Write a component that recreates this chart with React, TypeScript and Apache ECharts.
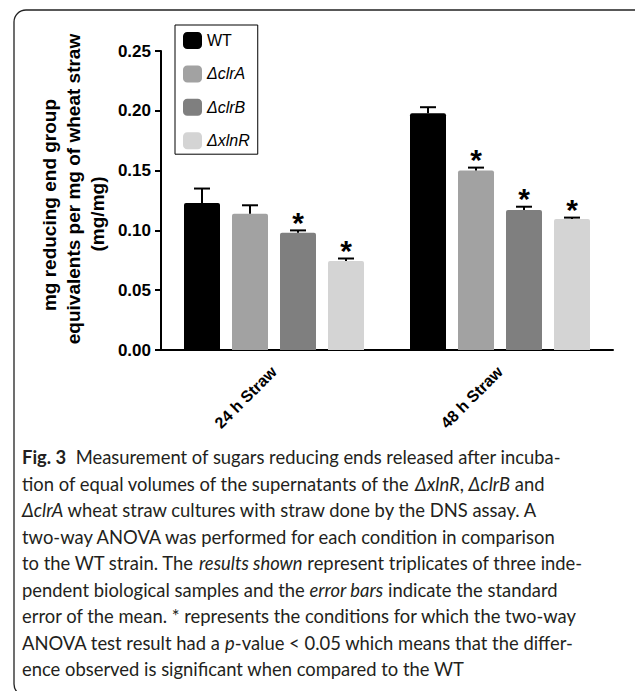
import React, { useEffect, useRef } from 'react';
import * as echarts from 'echarts';

const categories = ['24 h Straw', '48 h Straw'];
const strainNames = ['WT', 'ΔclrA', 'ΔclrB', 'ΔxlnR'];
const strainColors = ['#000000', '#a2a2a2', '#7f7f7f', '#d4d4d4'];

const wtMean = [0.123, 0.198];
const wtSem = [0.012, 0.005];
const clrAMean = [0.114, 0.150];
const clrASem = [0.007, 0.0025];
const clrBMean = [0.098, 0.117];
const clrBSem = [0.002, 0.0028];
const xlnRMean = [0.0745, 0.1095];
const xlnRSem = [0.002, 0.0012];

const wtSig = [0, 0];
const clrASig = [0, 1];
const clrBSig = [1, 1];
const xlnRSig = [1, 1];

const yTicks = { min: 0, max: 0.25, interval: 0.05 };

const yTitleLines = ['mg reducing end group', 'equivalents per mg of wheat straw', '(mg/mg)'];

const captionLines = [
  '{b|Fig. 3}  Measurement of sugars reducing ends released after incuba-',
  'tion of equal volumes of the supernatants of the {i|ΔxlnR}, {i|ΔclrB} and',
  '{i|ΔclrA} wheat straw cultures with straw done by the DNS assay. A',
  'two-way ANOVA was performed for each condition in comparison',
  'to the WT strain. The {i|results shown} represent triplicates of three inde-',
  'pendent biological samples and the {i|error bars} indicate the standard',
  'error of the mean. * represents the conditions for which the two-way',
  'ANOVA test result had a {i|p}-value < 0.05 which means that the differ-',
  'ence observed is significant when compared to the WT',
];

const ARIAL = '"Liberation Sans", Arial, sans-serif';
const CAP_FONT = 'Lato, "Open Sans", sans-serif';
const CAP_SIZE = 18.4;
const BAR_W = 36;
const BAR_GAP = 12;

export default function App() {
  const ref = useRef<HTMLDivElement>(null);

  useEffect(() => {
    const chart = echarts.init(ref.current!, null, { renderer: 'svg' });
    const means = [wtMean, clrAMean, clrBMean, xlnRMean];
    const sems = [wtSem, clrASem, clrBSem, xlnRSem];
    const sigs = [wtSig, clrASig, clrBSig, xlnRSig];

    const errData: number[][] = [];
    means.forEach((m, si) => {
      m.forEach((v, ci) => {
        errData.push([ci, v, sems[si][ci], si, sigs[si][ci]]);
      });
    });

    const barSeries = strainNames.map((name, si) => ({
      name,
      type: 'bar',
      data: means[si],
      barWidth: BAR_W,
      barGap: (BAR_GAP / BAR_W) * 100 + '%',
      itemStyle: { color: strainColors[si], borderRadius: [2, 2, 0, 0] },
      z: 2,
    }));

    const option: any = {
      animation: false,
      grid: { left: 161, top: 51, width: 452, height: 299, containLabel: false },
      legend: {
        data: strainNames,
        orient: 'vertical',
        left: 175,
        top: 25,
        itemWidth: 19,
        itemHeight: 17,
        itemGap: 16.4,
        icon: 'roundRect',
        selectedMode: false,
        padding: [7, 8, 5, 8],
        borderColor: '#000',
        borderWidth: 1,
        backgroundColor: '#fff',
        formatter: (name: string) => (name === 'WT' ? name : `{i|${name}}`),
        textStyle: {
          fontFamily: ARIAL,
          fontSize: 16,
          color: '#000',
          rich: { i: { fontFamily: ARIAL, fontSize: 16, fontStyle: 'italic', color: '#000' } },
        },
      },
      xAxis: {
        type: 'category',
        data: categories,
        axisLine: { lineStyle: { color: '#000', width: 2 } },
        axisTick: { alignWithLabel: true, length: 6, lineStyle: { color: '#000', width: 2 } },
        axisLabel: {
          rotate: 45,
          margin: 19,
          fontFamily: ARIAL,
          fontSize: 16,
          fontWeight: 'bold',
          color: '#000',
        },
      },
      yAxis: {
        type: 'value',
        min: yTicks.min,
        max: yTicks.max,
        interval: yTicks.interval,
        splitLine: { show: false },
        axisLine: { show: true, lineStyle: { color: '#000', width: 2 } },
        axisTick: { show: true, length: 6, lineStyle: { color: '#000', width: 2 } },
        axisLabel: {
          margin: 10,
          fontFamily: ARIAL,
          fontSize: 17,
          fontWeight: 'bold',
          color: '#000',
          formatter: (v: number) => v.toFixed(2),
        },
      },
      series: [
        ...barSeries,
        {
          type: 'custom',
          name: 'errors',
          data: errData,
          encode: { x: 0, y: 1 },
          clip: false,
          z: 5,
          renderItem: (params: any, api: any) => {
            const ci = api.value(0);
            const mean = api.value(1);
            const sem = api.value(2);
            const si = api.value(3);
            const sig = api.value(4);
            const base = api.coord([ci, mean]);
            const top = api.coord([ci, mean + sem]);
            const x = base[0] + (si - 1.5) * (BAR_W + BAR_GAP);
            const children: any[] = [
              {
                type: 'line',
                shape: { x1: x, y1: base[1], x2: x, y2: top[1] },
                style: { stroke: '#000', lineWidth: 2 },
              },
              {
                type: 'line',
                shape: { x1: x - 8, y1: top[1], x2: x + 8, y2: top[1] },
                style: { stroke: '#000', lineWidth: 2 },
              },
            ];
            if (sig) {
              children.push({
                type: 'text',
                x,
                y: top[1] - 8,
                style: {
                  text: '*',
                  fontFamily: ARIAL,
                  fontSize: 30,
                  fontWeight: 'bold',
                  fill: '#000',
                  align: 'center',
                  verticalAlign: 'middle',
                },
              });
            }
            return { type: 'group', children };
          },
        },
      ],
      graphic: [
        {
          type: 'rect',
          shape: { x: 14, y: 10, width: 640, height: 686, r: 12 },
          style: { fill: 'none', stroke: '#222', lineWidth: 1.3 },
          silent: true,
        },
        ...yTitleLines.map((t, i) => ({
          type: 'text',
          x: [49, 73, 97][i],
          y: [205, 189, 214][i],
          rotation: Math.PI / 2,
          style: {
            text: t,
            fontFamily: ARIAL,
            fontSize: 19,
            fontWeight: 'bold',
            fill: '#000',
            align: 'center',
            verticalAlign: 'middle',
          },
        })),
        ...captionLines.map((t, i) => ({
          type: 'text',
          x: 22,
          y: 457 + i * 26.55,
          style: {
            text: t,
            fontFamily: CAP_FONT,
            fontSize: CAP_SIZE,
            fill: '#231f20',
            align: 'left',
            verticalAlign: 'middle',
            rich: {
              b: { fontFamily: CAP_FONT, fontSize: CAP_SIZE, fontWeight: 'bold', fill: '#231f20' },
              i: { fontFamily: CAP_FONT, fontSize: CAP_SIZE, fontStyle: 'italic', fill: '#231f20' },
            },
          },
        })),
      ],
    };

    chart.setOption(option);
    return () => chart.dispose();
  }, []);

  return (
    <div
      ref={ref}
      style={{ position: 'fixed', left: 0, top: 0, width: 635, height: 691, background: '#fff' }}
    />
  );
}
